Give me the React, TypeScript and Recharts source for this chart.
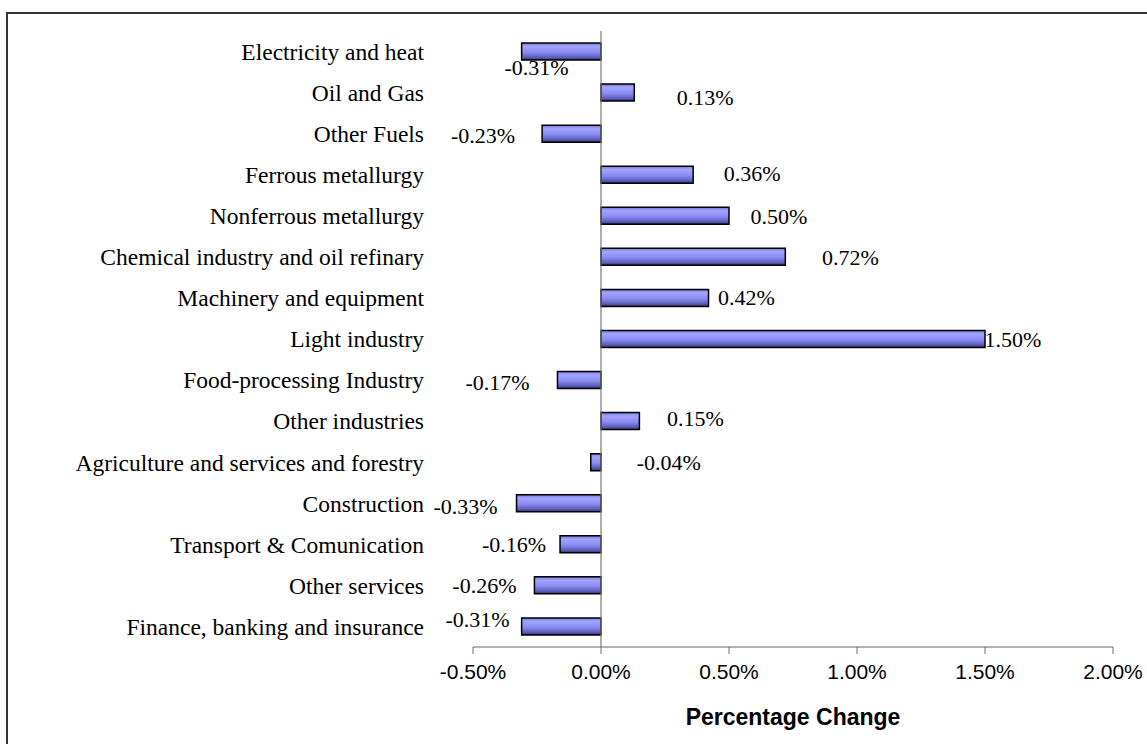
import { BarChart, Bar, XAxis, YAxis, ReferenceLine, LabelList, Label } from "recharts";

const sectors = [
  "Electricity and heat",
  "Oil and Gas",
  "Other Fuels",
  "Ferrous metallurgy",
  "Nonferrous metallurgy",
  "Chemical industry and oil refinary",
  "Machinery and equipment",
  "Light industry",
  "Food-processing Industry",
  "Other industries",
  "Agriculture and services and forestry",
  "Construction",
  "Transport & Comunication",
  "Other services",
  "Finance, banking and insurance",
];

const changes = [-0.31, 0.13, -0.23, 0.36, 0.5, 0.72, 0.42, 1.5, -0.17, 0.15, -0.04, -0.33, -0.16, -0.26, -0.31];

const xTicks = [-0.5, 0, 0.5, 1, 1.5, 2];

// where Excel dropped each data label, relative to the bar end (label centre)
const labelNudge: [number, number][] = [
  [15, 16], [71, 5], [-59, 2], [59, -1], [50, 1], [65, 1], [38, 0], [28, 1],
  [-60, 2], [56, -3], [78, 0], [-51, 3], [-46, 0], [-50, 0], [-44, -7],
];

const data = sectors.map((name, i) => ({ name, value: changes[i] }));

const pct = (v: number) => `${v.toFixed(2)}%`;

function ValueLabel(props: any) {
  const { x, y, width, height, value, index } = props;
  const end = value < 0 ? Math.min(x, x + width) : Math.max(x, x + width);
  const [dx, dy] = labelNudge[index] || [0, 0];
  return (
    <text
      x={end + dx}
      y={y + height / 2 + dy}
      textAnchor="middle"
      dominantBaseline="central"
      fontFamily="'Liberation Serif', serif"
      fontSize={22}
      fill="#000"
    >
      {pct(value)}
    </text>
  );
}

export default function App() {
  return (
    <div style={{ position: "absolute", left: 0, top: 0, width: 1147, height: 744, overflow: "hidden", background: "#fff" }}>
      <div
        style={{
          position: "absolute",
          left: 6,
          top: 12,
          width: 1160,
          height: 760,
          borderTop: "2px solid #333",
          borderLeft: "2px solid #333",
        }}
      />
      <div style={{ position: "absolute", left: 0, top: 0 }}>
        <BarChart
          width={1147}
          height={744}
          data={data}
          layout="vertical"
          margin={{ top: 31, right: 34, bottom: 12, left: 0 }}
          barSize={17}
        >
          <defs>
            <linearGradient id="barFill" x1="0" y1="0" x2="0" y2="1">
              <stop offset="0%" stopColor="#7676d8" />
              <stop offset="20%" stopColor="#a4a4ff" />
              <stop offset="55%" stopColor="#8a8af2" />
              <stop offset="85%" stopColor="#5c5cba" />
              <stop offset="100%" stopColor="#2e2e70" />
            </linearGradient>
          </defs>
          <XAxis
            type="number"
            domain={[-0.5, 2]}
            ticks={xTicks}
            tickFormatter={pct}
            height={85}
            stroke="#666"
            tickSize={7}
            tickMargin={10}
            tick={{ fill: "#000", fontSize: 21, fontFamily: "'Liberation Sans', Arial, sans-serif" }}
          >
            <Label
              value="Percentage Change"
              position="insideBottom"
              offset={7}
              style={{ fontSize: 23, fontWeight: 700, fill: "#000", fontFamily: "'Liberation Sans', Arial, sans-serif" }}
            />
          </XAxis>
          <YAxis
            type="category"
            dataKey="name"
            width={473}
            axisLine={false}
            tickLine={false}
            tickSize={0}
            tickMargin={49}
            interval={0}
            tick={{ fill: "#000", fontSize: 23.5, fontFamily: "'Liberation Serif', serif" }}
          />
          <ReferenceLine x={0} stroke="#777" strokeWidth={1.2} />
          <Bar dataKey="value" fill="url(#barFill)" stroke="#000" strokeWidth={1.5} isAnimationActive={false}>
            <LabelList dataKey="value" content={<ValueLabel />} />
          </Bar>
        </BarChart>
      </div>
    </div>
  );
}
